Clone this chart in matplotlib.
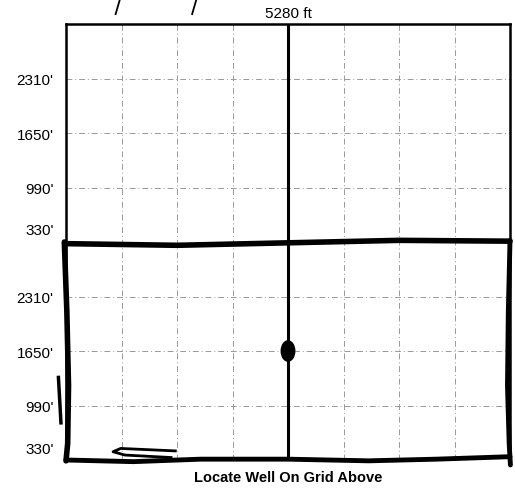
import matplotlib
matplotlib.use("Agg")
import matplotlib.pyplot as plt
from matplotlib.patches import Ellipse

# --- data ---
section_ft = 5280
grid_step = 660
x_lines = [660, 1320, 1980, 2640, 3300, 3960, 4620]
y_lines = [660, 1320, 1980, 2640, 3300, 3960, 4620]
ytick_pos = [4620, 3960, 3300, 2800, 1980, 1320, 660, 150]
ytick_labels = ["2310'", "1650'", "990'", "330'", "2310'", "1650'", "990'", "330'"]
well_x, well_y = 2640, 1320
title = "5280 ft"
footer = "Locate Well On Grid Above"

# hand-drawn strokes (data coords)
mid_line_x = [0, 1320, 2640, 3960, 5280]
mid_line_y = [2620, 2600, 2630, 2660, 2650]
box_left_x = [-20, 10, 30, 20, 0]
box_left_y = [2640, 1800, 900, 200, -10]
box_right_x = [5280, 5260, 5250, 5270, 5285]
box_right_y = [2660, 1800, 900, 200, -60]
box_bot_x = [0, 800, 1600, 2640, 3600, 4400, 5280]
box_bot_y = [0, -20, 10, 10, -10, 10, 40]
loop_x = [1250, 700, 560, 650, 1300]
loop_y = [30, 60, 100, 140, 110]
mark_x = [-90, -60]
mark_y = [1000, 450]

fig = plt.figure(figsize=(5.15, 4.89), dpi=100)
ax = fig.add_axes([66/515, 1-461/489, (510-66)/515, (461-25)/489])
ax.set_xlim(0, section_ft)
ax.set_ylim(0, section_ft)

for x in x_lines:
    if x == 2640:
        continue
    ax.axvline(x, color="#999999", lw=0.7, ls=(0, (6, 3, 1, 3)), zorder=1)
for y in y_lines:
    if y == 2640:
        continue
    ax.axhline(y, color="#999999", lw=0.7, ls=(0, (6, 3, 1, 3)), zorder=1)

ax.axvline(2640, color="black", lw=2.2, zorder=3)

for s in ax.spines.values():
    s.set_linewidth(1.8)
    s.set_color("black")
ax.spines["bottom"].set_visible(False)

ax.plot(mid_line_x, mid_line_y, color="black", lw=4.0, clip_on=False, zorder=4, solid_capstyle="round")
ax.plot(box_left_x, box_left_y, color="black", lw=4.0, clip_on=False, zorder=4, solid_capstyle="round")
ax.plot(box_right_x, box_right_y, color="black", lw=3.5, clip_on=False, zorder=4, solid_capstyle="round")
ax.plot(box_bot_x, box_bot_y, color="black", lw=3.5, clip_on=False, zorder=4, solid_capstyle="round")
ax.plot(loop_x, loop_y, color="black", lw=2.0, clip_on=False, zorder=4)
ax.plot(mark_x, mark_y, color="black", lw=2.5, clip_on=False, zorder=4)

ax.add_patch(Ellipse((well_x, well_y), 160, 245, color="black", zorder=5))

ax.set_xticks([])
ax.set_yticks(ytick_pos)
ax.set_yticklabels(ytick_labels, fontsize=11, family="Liberation Sans")
ax.tick_params(axis="y", length=0, pad=9)

ax.text(2640, 5280 + 50, title, ha="center", va="bottom", fontsize=11,
        family="Liberation Sans")
ax.text(2640, -120, footer, ha="center", va="top", fontsize=10.5,
        family="Liberation Sans", fontweight="bold")

# slash marks above the grid
for sx in [620, 1530]:
    ax.plot([sx - 30, sx + 30], [5280 + 120, 5280 + 330], color="black", lw=1.3, clip_on=False)

fig.savefig("out.png", dpi=100)
